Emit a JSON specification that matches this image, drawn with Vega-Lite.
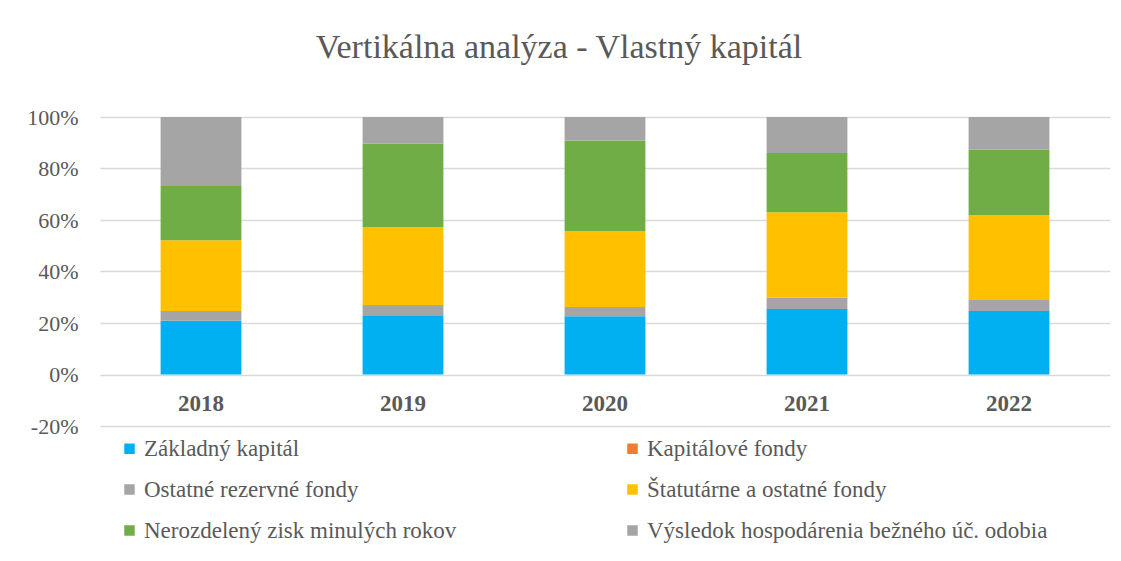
{
  "$schema": "https://vega.github.io/schema/vega-lite/v6.json",
  "width": 1010,
  "height": 309,
  "autosize": {"type": "none"},
  "padding": {"left": 100, "top": 117, "right": 11, "bottom": 135},
  "background": "white",
  "title": {
    "text": "Vertikálna analýza - Vlastný kapitál",
    "font": "Times New Roman, Liberation Serif, serif",
    "fontSize": 34,
    "fontWeight": "normal",
    "color": "#595959",
    "anchor": "middle",
    "frame": "group",
    "baseline": "alphabetic",
    "offset": 14,
    "dx": -46
  },
  "data": {
    "values": [
      {"rok": "2018", "polozka": "Základný kapitál", "poradie": 1, "podiel": 0.209},
      {"rok": "2018", "polozka": "Kapitálové fondy", "poradie": 2, "podiel": 0.0},
      {"rok": "2018", "polozka": "Ostatné rezervné fondy", "poradie": 3, "podiel": 0.038},
      {"rok": "2018", "polozka": "Štatutárne a ostatné fondy", "poradie": 4, "podiel": 0.274},
      {"rok": "2018", "polozka": "Nerozdelený zisk minulých rokov", "poradie": 5, "podiel": 0.211},
      {"rok": "2018", "polozka": "Výsledok hospodárenia bežného úč. odobia", "poradie": 6, "podiel": 0.268},
      {"rok": "2019", "polozka": "Základný kapitál", "poradie": 1, "podiel": 0.230},
      {"rok": "2019", "polozka": "Kapitálové fondy", "poradie": 2, "podiel": 0.0},
      {"rok": "2019", "polozka": "Ostatné rezervné fondy", "poradie": 3, "podiel": 0.040},
      {"rok": "2019", "polozka": "Štatutárne a ostatné fondy", "poradie": 4, "podiel": 0.303},
      {"rok": "2019", "polozka": "Nerozdelený zisk minulých rokov", "poradie": 5, "podiel": 0.323},
      {"rok": "2019", "polozka": "Výsledok hospodárenia bežného úč. odobia", "poradie": 6, "podiel": 0.104},
      {"rok": "2020", "polozka": "Základný kapitál", "poradie": 1, "podiel": 0.226},
      {"rok": "2020", "polozka": "Kapitálové fondy", "poradie": 2, "podiel": 0.0},
      {"rok": "2020", "polozka": "Ostatné rezervné fondy", "poradie": 3, "podiel": 0.036},
      {"rok": "2020", "polozka": "Štatutárne a ostatné fondy", "poradie": 4, "podiel": 0.295},
      {"rok": "2020", "polozka": "Nerozdelený zisk minulých rokov", "poradie": 5, "podiel": 0.352},
      {"rok": "2020", "polozka": "Výsledok hospodárenia bežného úč. odobia", "poradie": 6, "podiel": 0.091},
      {"rok": "2021", "polozka": "Základný kapitál", "poradie": 1, "podiel": 0.254},
      {"rok": "2021", "polozka": "Kapitálové fondy", "poradie": 2, "podiel": 0.0},
      {"rok": "2021", "polozka": "Ostatné rezervné fondy", "poradie": 3, "podiel": 0.044},
      {"rok": "2021", "polozka": "Štatutárne a ostatné fondy", "poradie": 4, "podiel": 0.332},
      {"rok": "2021", "polozka": "Nerozdelený zisk minulých rokov", "poradie": 5, "podiel": 0.230},
      {"rok": "2021", "polozka": "Výsledok hospodárenia bežného úč. odobia", "poradie": 6, "podiel": 0.140},
      {"rok": "2022", "polozka": "Základný kapitál", "poradie": 1, "podiel": 0.247},
      {"rok": "2022", "polozka": "Kapitálové fondy", "poradie": 2, "podiel": 0.0},
      {"rok": "2022", "polozka": "Ostatné rezervné fondy", "poradie": 3, "podiel": 0.042},
      {"rok": "2022", "polozka": "Štatutárne a ostatné fondy", "poradie": 4, "podiel": 0.329},
      {"rok": "2022", "polozka": "Nerozdelený zisk minulých rokov", "poradie": 5, "podiel": 0.255},
      {"rok": "2022", "polozka": "Výsledok hospodárenia bežného úč. odobia", "poradie": 6, "podiel": 0.127}
    ]
  },
  "mark": {"type": "bar"},
  "encoding": {
    "x": {
      "field": "rok",
      "type": "nominal",
      "sort": null,
      "scale": {"paddingInner": 0.6, "paddingOuter": 0.3},
      "axis": {
        "title": null,
        "labelAngle": 0,
        "domain": false,
        "ticks": false,
        "grid": false,
        "offset": -51.5,
        "labelBaseline": "alphabetic",
        "labelPadding": 36,
        "labelFont": "Times New Roman, Liberation Serif, serif",
        "labelFontSize": 23,
        "labelFontWeight": "bold",
        "labelColor": "#595959"
      }
    },
    "y": {
      "field": "podiel",
      "type": "quantitative",
      "stack": "zero",
      "scale": {"domain": [-0.2, 1], "nice": false, "zero": false},
      "axis": {
        "title": null,
        "values": [-0.2, 0, 0.2, 0.4, 0.6, 0.8, 1],
        "labelExpr": "replace(format(datum.value, '.0%'), '\u2212', '-')",
        "domain": false,
        "ticks": false,
        "labelPadding": 22,
        "labelFont": "Times New Roman, Liberation Serif, serif",
        "labelFontSize": 22,
        "labelColor": "#595959",
        "gridColor": "#D9D9D9",
        "gridWidth": 1.5
      }
    },
    "color": {
      "field": "polozka",
      "type": "nominal",
      "scale": {
        "domain": [
          "Základný kapitál",
          "Kapitálové fondy",
          "Ostatné rezervné fondy",
          "Štatutárne a ostatné fondy",
          "Nerozdelený zisk minulých rokov",
          "Výsledok hospodárenia bežného úč. odobia"
        ],
        "range": ["#00B0F0", "#ED7D31", "#A5A5A5", "#FFC000", "#70AD47", "#A5A5A5"]
      },
      "legend": {
        "title": null,
        "orient": "none",
        "legendX": 18,
        "legendY": 320,
        "direction": "horizontal",
        "columns": 2,
        "columnPadding": 164,
        "rowPadding": 17,
        "padding": 0,
        "symbolType": "square",
        "symbolSize": 110,
        "symbolStrokeWidth": 0,
        "labelOffset": 3,
        "labelFont": "Times New Roman, Liberation Serif, serif",
        "labelFontSize": 23,
        "labelColor": "#595959",
        "labelLimit": 600
      }
    },
    "order": {"field": "poradie", "type": "quantitative"}
  },
  "config": {
    "font": "Times New Roman, Liberation Serif, serif",
    "view": {"stroke": null}
  }
}
